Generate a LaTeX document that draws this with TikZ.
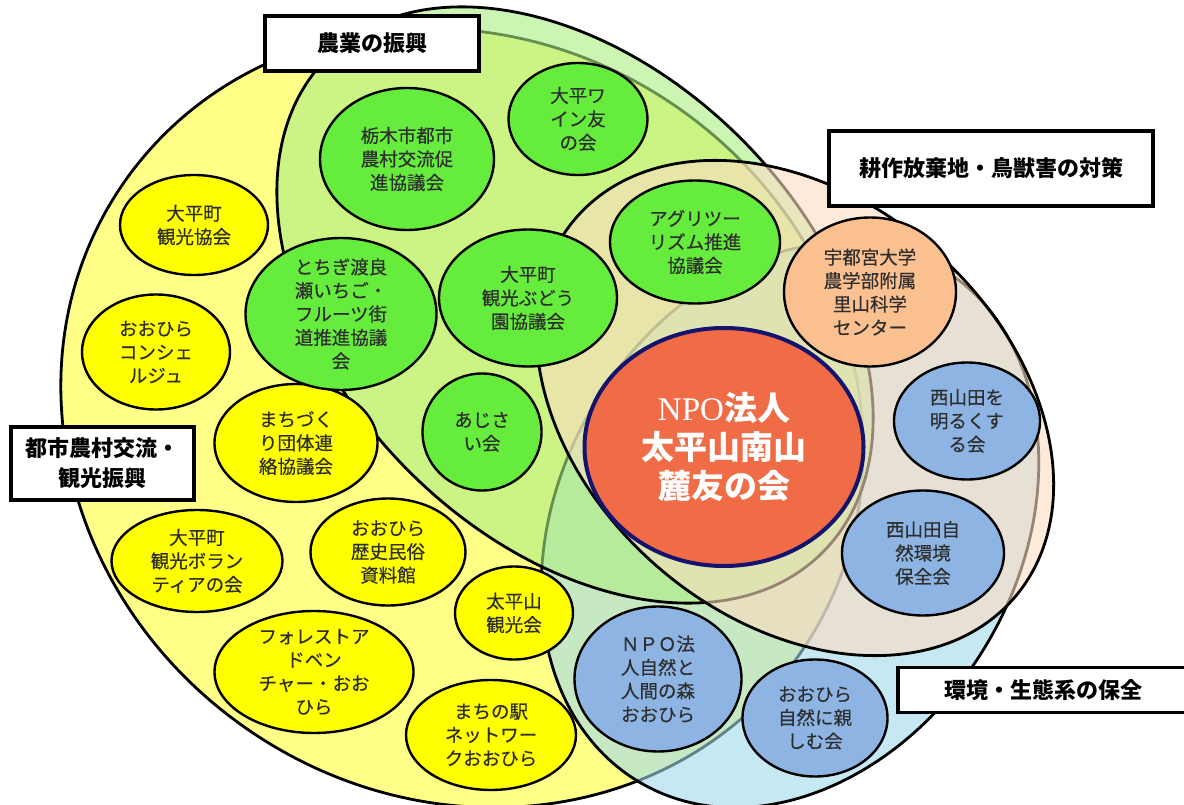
\documentclass[tikz,border=0pt]{standalone}
\usepackage{fontspec}
\newfontfamily\jp{Noto Sans CJK JP}
\newfontfamily\jpm{Noto Sans CJK JP}[FakeBold=0.35]
\newfontfamily\lser{Liberation Serif}
\usetikzlibrary{shapes.geometric}
\definecolor{ylwR}{RGB}{255,255,136}
\definecolor{grnR}{RGB}{170,238,130}
\definecolor{bluR}{RGB}{160,217,233}
\definecolor{tanR}{RGB}{252,220,193}
\definecolor{cY}{RGB}{255,255,0}
\definecolor{cG}{RGB}{102,236,60}
\definecolor{cO}{RGB}{250,192,144}
\definecolor{cB}{RGB}{141,180,226}
\definecolor{cNPO}{RGB}{239,108,71}
\definecolor{cNavy}{RGB}{20,20,110}
\tikzset{
  org/.style={ellipse, draw=black, line width=2.4pt, inner sep=-25pt, align=center,
    text=black!82, font=\jpm\fontsize{18.5}{23.5}\selectfont},
  oy/.style={org, fill=cY},
  og/.style={org, fill=cG},
  oo/.style={org, fill=cO},
  ob/.style={org, fill=cB},
  sz/.style 2 args={minimum width=#1pt, minimum height=#2pt},
  lbl/.style={draw=black, line width=3.6pt, fill=white, inner sep=0pt, align=center,
    font=\jp\bfseries\fontsize{22}{30}\selectfont},
  big/.style={draw=black, line width=2.8pt},
}
\begin{document}
\begin{tikzpicture}[x=1pt,y=-1pt]
\useasboundingbox (0,0) rectangle (1184,805);
% large overlapping areas
\filldraw[big, fill=ylwR] (462,418) circle [x radius=412pt, y radius=378pt, rotate=-35];
\filldraw[big, fill=bluR, fill opacity=0.6] (790,525) circle [x radius=298pt, y radius=230pt, rotate=60];
\filldraw[big, fill=grnR, fill opacity=0.6] (575,305) circle [x radius=350pt, y radius=235pt, rotate=-45];
\filldraw[big, fill=tanR, fill opacity=0.6] (795,408) circle [x radius=290pt, y radius=210pt, rotate=-41];

% yellow members
\node[oy, sz={148}{100}] (y1) at (194,225) {大平町\\観光協会};
\node[oy, sz={148}{115}] (y2) at (156,352) {おおひら\\コンシェ\\ルジュ};
\node[oy, sz={163}{118}] (y3) at (296,443) {まちづく\\り団体連\\絡協議会};
\node[oy, sz={171}{102}] (y4) at (197,561) {大平町\\観光ボラン\\ティアの会};
\node[oy, sz={155}{107}] (y5) at (388,552) {おおひら\\歴史民俗\\資料館};
\node[oy, sz={118}{93}]  (y6) at (514,613) {太平山\\観光会};
\node[oy, sz={199}{122}] (y7) at (314,672) {フォレストア\\ドベン\\チャー・おお\\ひら};
\node[oy, sz={170}{110}] (y8) at (491,735) {まちの駅\\ネットワー\\クおおひら};

% green members
\node[og, sz={174}{142}] (g1) at (407,159) {栃木市都市\\農村交流促\\進協議会};
\node[og, sz={139}{112}] (g2) at (578,119) {大平ワ\\イン友\\の会};
\node[og, sz={191}{152}] (g3) at (341,314) {とちぎ渡良\\瀬いちご・\\フルーツ街\\道推進協議\\会};
\node[og, sz={178}{137}] (g4) at (528,298) {大平町\\観光ぶどう\\園協議会};
\node[og, sz={170}{123}] (g5) at (695,242) {アグリツー\\リズム推進\\協議会};
\node[og, sz={119}{117}] (g6) at (482,432) {あじさ\\い会};

% orange member
\node[oo, sz={172}{149}] (o1) at (870,292) {宇都宮大学\\農学部附属\\里山科学\\センター};

% blue members
\node[ob, sz={146}{117}] (b1) at (967,421) {西山田を\\明るくす\\る会};
\node[ob, sz={162}{125}] (b2) at (923,553) {西山田自\\然環境\\保全会};
\node[ob, sz={167}{145}] (b3) at (658,679) {ＮＰＯ法\\人自然と\\人間の森\\おおひら};
\node[ob, sz={145}{117}] (b4) at (815,718) {おおひら\\自然に親\\しむ会};

% central organisation
\node[ellipse, draw=cNavy, line width=4pt, fill=cNPO, minimum width=279pt, minimum height=238pt,
  inner sep=-30pt, align=center, text=white, font=\jp\bfseries\fontsize{33}{39}\selectfont]
  (npo) at (724,447) {{\lser\mdseries NPO}法人\\太平山南山\\麓友の会};

% category labels
\node[lbl, minimum width=214pt, minimum height=55pt] (l1) at (372,43.5) {農業の振興};
\node[lbl, minimum width=324pt, minimum height=75pt] (l2) at (991,168.5) {耕作放棄地・鳥獣害の対策};
\node[lbl, minimum width=183pt, minimum height=73pt] (l3) at (102.5,463.5) {都市農村交流・\\観光振興};
\node[lbl, minimum width=290pt, minimum height=45pt] (l4) at (1043,690) {環境・生態系の保全};
\end{tikzpicture}
\end{document}
